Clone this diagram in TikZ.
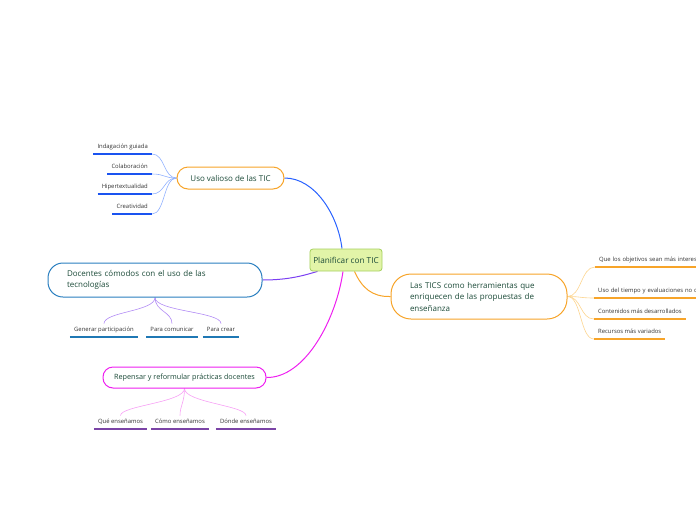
\documentclass[tikz,border=0pt]{standalone}
\usepackage{fontspec}
\setmainfont{Open Sans}
\usetikzlibrary{backgrounds}

\definecolor{txtgreen}{HTML}{1B4A38}
\definecolor{leafgray}{HTML}{333333}
\definecolor{cgreen}{HTML}{E2F4A8}
\definecolor{cgreenline}{HTML}{A5D05E}
\definecolor{cblue}{HTML}{2962FF}
\definecolor{cbluetwig}{HTML}{8FB0FF}
\definecolor{cblueline}{HTML}{1A53F0}
\definecolor{csteel}{HTML}{2A7FC0}
\definecolor{csteelline}{HTML}{1F78B4}
\definecolor{cpurple}{HTML}{7B3FF2}
\definecolor{cpurpletwig}{HTML}{B28CF5}
\definecolor{corange}{HTML}{F7A429}
\definecolor{corangetwig}{HTML}{FCD48E}
\definecolor{cmagenta}{HTML}{EE1FF0}
\definecolor{cmagentatwig}{HTML}{F7A0F5}
\definecolor{cviolet}{HTML}{7B44A6}

\tikzset{
  topic/.style={draw=#1, line width=1pt, fill=white, text=txtgreen, font=\fontsize{8}{9}\selectfont},
  leaf/.style={inner xsep=4pt, inner ysep=3.5pt, text height=4.5pt, text depth=1.5pt, text=leafgray, font=\fontsize{5.9}{7}\selectfont},
  branch/.style={draw=#1, line width=1pt},
  twig/.style={draw=#1, line width=0.6pt},
  uline/.style={draw=#1, line width=1.4pt},
}

\begin{document}
\begin{tikzpicture}[x=1pt,y=1pt,yscale=-1]
\clip (0,0) rectangle (696,520);

% Central node
\node[draw=cgreenline, fill=cgreen, line width=0.8pt, rounded corners=3pt, minimum width=72pt, minimum height=22pt, text=txtgreen, font=\fontsize{8.2}{9}\selectfont] (plan) at (346,260) {Planificar con TIC};

% Topic nodes
\node[topic=corange, minimum width=107pt, minimum height=22pt, rounded corners=11pt] (uso) at (230.5,178) {Uso valioso de las TIC};
\node[topic=csteel, minimum height=34pt, rounded corners=15pt, text width=176pt, inner xsep=19pt, align=left, font=\fontsize{8}{11.5}\selectfont] (doc) at (155,280) {Docentes cómodos con el uso de las\\tecnologías};
\node[topic=corange, minimum height=45pt, rounded corners=20pt, text width=138pt, inner xsep=19pt, align=left, font=\fontsize{8}{11.5}\selectfont] (tics) at (479,296.5) {Las TICS como herramientas que\\enriquecen de las propuestas de\\enseñanza};
\node[topic=cmagenta, minimum width=163pt, minimum height=21pt, rounded corners=10pt, font=\fontsize{7.25}{9}\selectfont] (rep) at (184.5,377.5) {Repensar y reformular prácticas docentes};

% Leaves of Uso valioso
\node[leaf, anchor=south east] (indag) at (152,154) {Indagación guiada};
\node[leaf, anchor=south east] (colab) at (152,174) {Colaboración};
\node[leaf, anchor=south east] (hiper) at (152,194) {Hipertextualidad};
\node[leaf, anchor=south east] (creat) at (152,214) {Creatividad};

% Leaves of Docentes
\node[leaf, anchor=south] (gener) at (104,337) {Generar participación};
\node[leaf, anchor=south] (comun) at (172,337) {Para comunicar};
\node[leaf, anchor=south] (crear) at (221,337) {Para crear};

% Leaves of Las TICS
\node[leaf, anchor=south west, text width=120pt, align=left] (objet) at (595,267) {Que los objetivos sean más interes};
\node[leaf, anchor=south west, text width=120pt, align=left] (tiempo) at (594,298) {Uso del tiempo y evaluaciones no c};
\node[leaf, anchor=south west] (conten) at (594,319) {Contenidos más desarrollados};
\node[leaf, anchor=south west] (recur) at (594,339) {Recursos más variados};

% Leaves of Repensar
\node[leaf, anchor=south] (que) at (120.5,429) {Qué enseñamos};
\node[leaf, anchor=south] (como) at (180,429) {Cómo enseñamos};
\node[leaf, anchor=south] (donde) at (246,429) {Dónde enseñamos};

% Underlines
\foreach \n in {indag,colab,hiper,creat}
  \draw[uline=cblueline] (\n.south west) -- (\n.south east);
\foreach \n in {gener,comun,crear}
  \draw[uline=csteelline] (\n.south west) -- (\n.south east);
\foreach \n in {objet,tiempo,conten,recur}
  \draw[uline=corange] (\n.south west) -- (\n.south east);
\foreach \n in {que,como,donde}
  \draw[uline=cviolet] (\n.south west) -- (\n.south east);

\begin{scope}[on background layer]
% Main branches
\draw[branch=cblue] (uso.east) .. controls (315,178) and (338,215) .. ([xshift=-4pt]plan.north);
\draw[branch=cpurple] (doc.east) .. controls (290,280) and (305,275) .. ([xshift=8pt]plan.south west);
\draw[branch=cmagenta] (rep.east) .. controls (305,378) and (336,320) .. ([xshift=-3pt]plan.south);
\draw[branch=corange] ([xshift=-28pt]plan.south east) .. controls (362,288) and (372,297) .. (tics.west);

% Twigs
\foreach \n in {indag,colab,hiper,creat}
  \draw[twig=cbluetwig] (uso.west) .. controls +(-13,0) and +(13,0) .. (\n.south east);
\foreach \n in {gener,comun,crear}
  \draw[twig=cpurpletwig] (doc.south) .. controls +(0,14) and +(0,-12) .. (\n.north);
\foreach \n in {objet,tiempo,conten,recur}
  \draw[twig=corangetwig] (tics.east) .. controls +(14,0) and +(-14,0) .. (\n.south west);
\foreach \n in {que,como,donde}
  \draw[twig=cmagentatwig] (rep.south) .. controls +(0,14) and +(0,-10) .. (\n.north);
\end{scope}

\end{tikzpicture}
\end{document}
